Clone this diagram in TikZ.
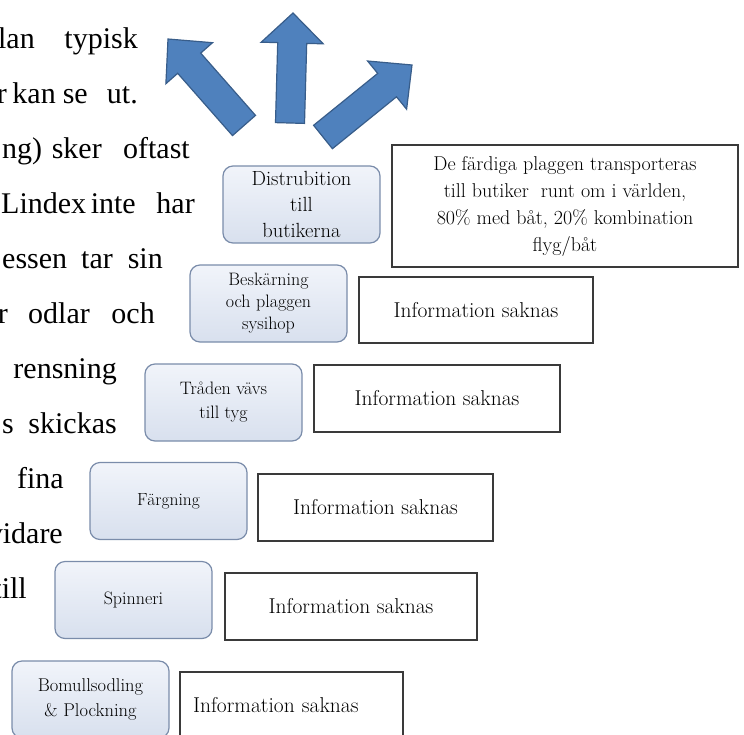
\documentclass[tikz,border=0pt]{standalone}
\usepackage{fontspec}
\newfontfamily\bodyfont{Liberation Serif}
\definecolor{stagetop}{HTML}{F1F4FA}
\definecolor{stagebot}{HTML}{D8E0EE}
\definecolor{stageborder}{HTML}{7A8CAA}
\definecolor{infoborder}{HTML}{3A3A3A}
\definecolor{arrowfill}{HTML}{4F81BD}
\definecolor{arrowdraw}{HTML}{385D8A}
\tikzset{
  stage/.style={rounded corners=10pt, draw=stageborder, line width=1.2pt,
    top color=stagetop, bottom color=stagebot,
    minimum width=157pt, minimum height=77pt, align=center, inner sep=2pt},
  info/.style={draw=infoborder, line width=1.1pt, fill=white, align=center, inner sep=2pt},
  bigarrow/.style={fill=arrowfill, draw=arrowdraw, line width=1.2pt, line join=miter},
  bodyword/.style={anchor=base east, inner sep=0pt, font=\bodyfont\fontsize{30}{36}\selectfont},
  bodyfirst/.style={bodyword, anchor=base west},
  infotext/.style={font=\fontsize{21.5}{26}\selectfont}
}
\begin{document}
\begin{tikzpicture}[x=1pt, y=-1pt]
\useasboundingbox (0,0) rectangle (744,734);
\clip (0,0) rectangle (744,734);

% body text fragments (cut off at the left edge)
\node[bodyword] (w1a) at (35,48) {dlan};
\node[bodyword] (w1b) at (138,48) {typisk};
\node[bodyword] (w2a) at (7,103) {r};
\node[bodyword] (w2b) at (56,103) {kan};
\node[bodyword] (w2c) at (88,103) {se};
\node[bodyword] (w2d) at (138,103) {ut.};
\node[bodyfirst] (w3a) at (2,158) {ng)};
\node[bodyword] (w3b) at (102,158) {sker};
\node[bodyword] (w3c) at (190,158) {oftast};
\node[bodyfirst] (w4a) at (1,213) {Lindex};
\node[bodyword] (w4b) at (136,213) {inte};
\node[bodyword] (w4c) at (195,213) {har};
\node[bodyfirst] (w5a) at (2,268) {essen};
\node[bodyword] (w5b) at (113,268) {tar};
\node[bodyword] (w5c) at (163,268) {sin};
\node[bodyword] (w6a) at (8,323) {r};
\node[bodyword] (w6b) at (90,323) {odlar};
\node[bodyword] (w6c) at (155,323) {och};
\node[bodyword] (w7a) at (117,378) {rensning};
\node[bodyfirst] (w8a) at (2,433) {s};
\node[bodyword] (w8b) at (117,433) {skickas};
\node[bodyword] (w9a) at (64,488) {fina};
\node[bodyword] (w10a) at (63,543) {vidare};
\node[bodyword] (w11a) at (27,598) {till};

% three big arrows
\draw[bigarrow] (255.5,115.4) -- (200.7,53.1) -- (212.5,42.7) -- (168,39)
  -- (165.9,83.7) -- (177.7,73.3) -- (232.5,135.6) -- cycle;
\draw[bigarrow] (304.5,123.4) -- (306.7,43.4) -- (323.2,43.8) -- (293,13)
  -- (261.2,42.2) -- (277.7,42.6) -- (275.5,122.6) -- cycle;
\draw[bigarrow] (313.6,125.3) -- (377.7,73.4) -- (367.6,61.0) -- (412,65)
  -- (406.6,109.2) -- (396.5,96.8) -- (332.4,148.7) -- cycle;

% stage boxes
\node[stage, font=\fontsize{20.5}{26}\selectfont] (s1) at (301.5,204.5) {Distrubition\\till\\butikerna};
\node[stage, font=\fontsize{18}{22}\selectfont] (s2) at (268.5,303.5) {Beskärning\\och plaggen\\sysihop};
\node[stage, font=\fontsize{18}{24}\selectfont] (s3) at (223.5,402.5) {Tråden vävs\\till tyg};
\node[stage, font=\fontsize{17.5}{22}\selectfont] (s4) at (168.5,501) {\raisebox{-3pt}{Färgning}};
\node[stage, font=\fontsize{18}{22}\selectfont] (s5) at (133.5,600) {Spinneri};
\node[stage, font=\fontsize{18.5}{25}\selectfont] (s6) at (90.5,699.5) {Bomullsodling\\\& Plockning};

% information boxes
\node[info, minimum width=346pt, minimum height=122pt, font=\fontsize{20}{27}\selectfont] (i1) at (565,206)
  {De färdiga plaggen transporteras\\till butiker\ \ runt om i världen,\\80\% med båt, 20\% kombination\\flyg/båt};
\node[info, infotext, minimum width=234pt, minimum height=66pt] (i2) at (476,310) {Information saknas};
\node[info, infotext, minimum width=246pt, minimum height=67pt] (i3) at (437,398.5) {Information saknas};
\node[info, infotext, minimum width=235pt, minimum height=67pt] (i4) at (375.5,507.5) {Information saknas};
\node[info, infotext, minimum width=252pt, minimum height=67pt] (i5) at (351,606.5) {Information saknas};
\node[info, infotext, text width=197pt, inner xsep=13pt, align=left, minimum height=66pt] (i6) at (291.5,705) {Information saknas};
\end{tikzpicture}
\end{document}
